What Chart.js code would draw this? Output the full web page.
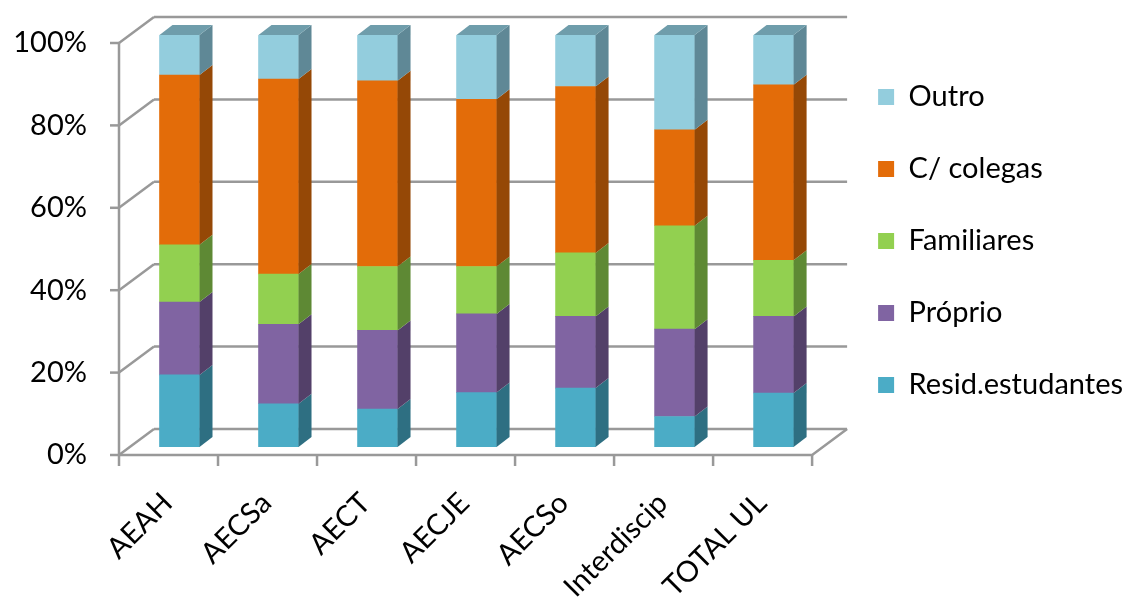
<!DOCTYPE html>
<html>
<head>
<meta charset="utf-8">
<script src="https://cdn.jsdelivr.net/npm/chart.js@4"></script>
<style>
  html, body { margin: 0; padding: 0; background: #ffffff; }
  #wrap { width: 1133px; height: 606px; position: relative; }
</style>
</head>
<body>
<div id="wrap"><canvas id="grafico"></canvas></div>
<script>
// Categorias e valores (%)
const categorias = ['AEAH', 'AECSa', 'AECT', 'AECJE', 'AECSo', 'Interdiscip', 'TOTAL UL'];
const residEstudantes = [17.5, 10.5, 9.2, 13.2, 14.3, 7.4, 13.1];
const proprio = [17.7, 19.3, 19.1, 19.1, 17.4, 21.2, 18.6];
const familiares = [13.9, 12.2, 15.5, 11.5, 15.4, 25.1, 13.6];
const colegas = [41.2, 47.3, 45.1, 40.6, 40.4, 23.3, 42.6];
const outro = [9.7, 10.7, 11.1, 15.6, 12.5, 23.0, 12.1];
const ticksY = [0, 20, 40, 60, 80, 100];

const FONTE = 'Lato, "Open Sans", sans-serif';

// Cores: frente e lateral (sombra)
const cores = {
    resid: ['#4bacc6', '#2e6f82'],
    proprio: ['#8064a2', '#534069'],
    familiares: ['#92d050', '#5e8934'],
    colegas: ['#e36c09', '#954806'],
    outro: ['#93cddd', '#5f8896']
};

// Deslocamentos da perspectiva
const PROF = { dx: 13, dy: 10 };      // profundidade das barras
const FRENTE = { dx: -11, dy: 8 };    // plano frontal dos eixos
const FUNDO = { dx: 24, dy: -18 };    // parede do fundo
const COR_GRADE = '#999999';

// Plugin que desenha as paredes e as faces 3D das barras
const efeito3D = {
    id: 'efeito3D',
    beforeDatasetsDraw(chart) {
        const { ctx, chartArea } = chart;
        const y = chart.scales.y;
        ctx.save();
        ctx.strokeStyle = COR_GRADE;
        ctx.lineWidth = 2.5;
        ctx.lineCap = 'butt';

        const esq = chartArea.left;
        const dir = chartArea.right;

        ticksY.forEach(v => {
            const py = y.getPixelForValue(v);
            // linha do fundo
            ctx.beginPath();
            ctx.moveTo(esq + FUNDO.dx, py + FUNDO.dy);
            ctx.lineTo(dir + FUNDO.dx, py + FUNDO.dy);
            ctx.stroke();
            // diagonal na parede lateral
            ctx.beginPath();
            ctx.moveTo(esq + FRENTE.dx, py + FRENTE.dy);
            ctx.lineTo(esq + FUNDO.dx, py + FUNDO.dy);
            ctx.stroke();
            // marca do eixo
            ctx.beginPath();
            ctx.moveTo(esq + FRENTE.dx - 9, py + FRENTE.dy);
            ctx.lineTo(esq + FRENTE.dx, py + FRENTE.dy);
            ctx.stroke();
        });

        // eixo vertical frontal
        const y0 = y.getPixelForValue(0);
        const y100 = y.getPixelForValue(100);
        ctx.beginPath();
        ctx.moveTo(esq + FRENTE.dx, y100 + FRENTE.dy);
        ctx.lineTo(esq + FRENTE.dx, y0 + FRENTE.dy);
        ctx.stroke();

        // eixo horizontal frontal e canto direito do chão
        ctx.beginPath();
        ctx.moveTo(esq + FRENTE.dx, y0 + FRENTE.dy);
        ctx.lineTo(dir + FRENTE.dx, y0 + FRENTE.dy);
        ctx.lineTo(dir + FUNDO.dx, y0 + FUNDO.dy);
        ctx.stroke();

        // marcas entre categorias
        const passo = (dir - esq) / categorias.length;
        for (let i = 0; i <= categorias.length; i++) {
            const px = esq + i * passo + FRENTE.dx;
            ctx.beginPath();
            ctx.moveTo(px, y0 + FRENTE.dy);
            ctx.lineTo(px, y0 + FRENTE.dy + 11);
            ctx.stroke();
        }
        ctx.restore();
    },
    afterDatasetsDraw(chart) {
        const { ctx } = chart;
        const n = chart.data.datasets.length;
        ctx.save();
        chart.data.datasets.forEach((ds, di) => {
            const meta = chart.getDatasetMeta(di);
            if (meta.hidden) return;
            meta.data.forEach(bar => {
                const p = bar.getProps(['x', 'y', 'base', 'width'], true);
                const direita = p.x + p.width / 2;
                const esquerda = p.x - p.width / 2;
                // face lateral
                ctx.fillStyle = ds.sideColor;
                ctx.beginPath();
                ctx.moveTo(direita, p.y);
                ctx.lineTo(direita + PROF.dx, p.y - PROF.dy);
                ctx.lineTo(direita + PROF.dx, p.base - PROF.dy);
                ctx.lineTo(direita, p.base);
                ctx.closePath();
                ctx.fill();
                // face de cima (só na última série)
                if (di === n - 1) {
                    ctx.fillStyle = ds.topColor;
                    ctx.beginPath();
                    ctx.moveTo(esquerda, p.y);
                    ctx.lineTo(esquerda + PROF.dx, p.y - PROF.dy);
                    ctx.lineTo(direita + PROF.dx, p.y - PROF.dy);
                    ctx.lineTo(direita, p.y);
                    ctx.closePath();
                    ctx.fill();
                }
            });
        });
        ctx.restore();
    }
};

function serie(nome, valores, cor) {
    return {
        label: nome,
        data: valores,
        backgroundColor: cor[0],
        sideColor: cor[1],
        topColor: '#6f9dab',
        borderWidth: 0,
        barThickness: 40
    };
}

const ctx = document.getElementById('grafico').getContext('2d');
new Chart(ctx, {
    type: 'bar',
    data: {
        labels: categorias,
        datasets: [
            serie('Resid.estudantes', residEstudantes, cores.resid),
            serie('Próprio', proprio, cores.proprio),
            serie('Familiares', familiares, cores.familiares),
            serie('C/ colegas', colegas, cores.colegas),
            serie('Outro', outro, cores.outro)
        ]
    },
    options: {
        responsive: true,
        maintainAspectRatio: false,
        animation: false,
        layout: { padding: { left: 12, top: 35, right: 0, bottom: 0 } },
        plugins: {
            legend: {
                position: 'right',
                fullSize: false,
                reverse: true,
                maxWidth: 298,
                labels: {
                    boxWidth: 16,
                    boxHeight: 16,
                    padding: 43,
                    color: '#000000',
                    font: { family: FONTE, size: 29 }
                }
            },
            tooltip: { enabled: false }
        },
        scales: {
            x: {
                stacked: true,
                grid: { display: false, drawTicks: false },
                border: { display: false },
                ticks: {
                    autoSkip: false,
                    maxRotation: 45,
                    minRotation: 45,
                    padding: 39,
                    labelOffset: -12,
                    color: '#000000',
                    font: { family: FONTE, size: 29 }
                },
                afterFit: s => { s.height = 159; }
            },
            y: {
                stacked: true,
                min: 0,
                max: 100,
                grid: { display: false, drawTicks: false },
                border: { display: false },
                ticks: {
                    stepSize: 20,
                    padding: 43,
                    labelOffset: 8,
                    color: '#000000',
                    font: { family: FONTE, size: 29 },
                    callback: v => v + '%'
                },
                afterFit: s => {
                    s.width = 118;
                    s.paddingTop = 0;
                    s.paddingBottom = 0;
                }
            },
            yDir: {
                type: 'linear',
                position: 'right',
                grid: { display: false, drawTicks: false },
                border: { display: false },
                ticks: { display: false },
                afterFit: s => { s.width = 12; }
            }
        }
    },
    plugins: [efeito3D]
});
</script>
</body>
</html>
